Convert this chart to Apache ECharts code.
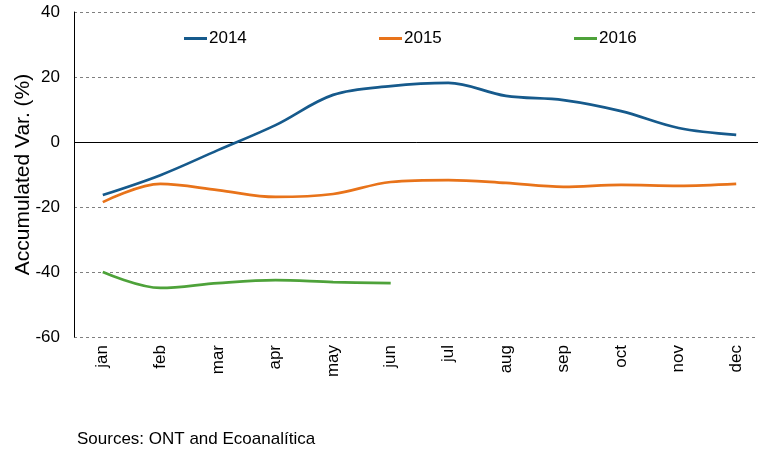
<!DOCTYPE html>
<html><head><meta charset="utf-8">
<script src="https://cdn.jsdelivr.net/npm/echarts@6/dist/echarts.min.js"></script>
<style>html,body{margin:0;padding:0;background:#fff}#c{width:758px;height:450px}</style>
</head><body><div id="c"></div>
<script>
var months = ['jan','feb','mar','apr','may','jun','jul','aug','sep','oct','nov','dec'];
var s2014 = [-16.3,-10.2,-2.5,5.2,14.5,17.2,18.2,14.2,12.9,9.5,4.3,2.2];
var s2015 = [-18.5,-12.9,-14.8,-16.9,-16.0,-12.3,-11.7,-12.6,-13.8,-13.2,-13.5,-12.9];
var s2016 = [-40.0,-44.9,-43.4,-42.5,-43.1,-43.4];
var yTicks = {min:-60, max:40, interval:20};
var colors = {'2014':'#165a8c','2015':'#e8731a','2016':'#4ea23a'};
var F = 'Liberation Sans, Arial, sans-serif';
var chart = echarts.init(document.getElementById('c'));
function leg(name, left){
  return {data:[name], left:left, top:30, padding:0, itemWidth:23, itemHeight:3, icon:'rect', itemGap:0,
    textStyle:{fontFamily:F,fontSize:17,color:'#000',padding:[0,0,0,-3]}};
}
function ser(name, data, z){
  return {name:name, type:'line', data:data, smooth:0.35, symbol:'none', z:z,
    lineStyle:{width:2.7, color:colors[name]}, itemStyle:{color:colors[name]}};
}
var series = [ser('2014', s2014, 3), ser('2015', s2015, 3), ser('2016', s2016, 3)];
series[0].markLine = {silent:true, symbol:'none', label:{show:false}, z:2,
  lineStyle:{color:'#000', type:'solid', width:1}, data:[{yAxis:0}]};
chart.setOption({
  animation:false,
  legend:[leg('2014',184), leg('2015',379), leg('2016',574)],
  grid:{left:74, top:12, bottom:113, width:691, containLabel:false, outerBoundsMode:'none'},
  xAxis:{type:'category', data:months, boundaryGap:true,
    axisLine:{show:false}, axisTick:{show:false},
    axisLabel:{rotate:90, margin:8, fontFamily:F, fontSize:17, color:'#000'}},
  yAxis:{type:'value', min:yTicks.min, max:yTicks.max, interval:yTicks.interval,
    name:'Accumulated Var. (%)', nameLocation:'middle', nameGap:40, nameMoveOverlap:false,
    nameTextStyle:{fontFamily:F, fontSize:21, color:'#000'},
    axisLine:{show:true, lineStyle:{color:'#000', width:1}}, axisTick:{show:false},
    axisLabel:{margin:14, fontFamily:F, fontSize:17, color:'#000'},
    splitLine:{show:true, lineStyle:{color:'#7f7f7f', type:[3,3], width:1}}},
  graphic:[{type:'text', left:77, top:431, style:{text:'Sources: ONT and Ecoanalítica', font:'17px '+F, fill:'#000'}}],
  series:series
});
</script></body></html>
